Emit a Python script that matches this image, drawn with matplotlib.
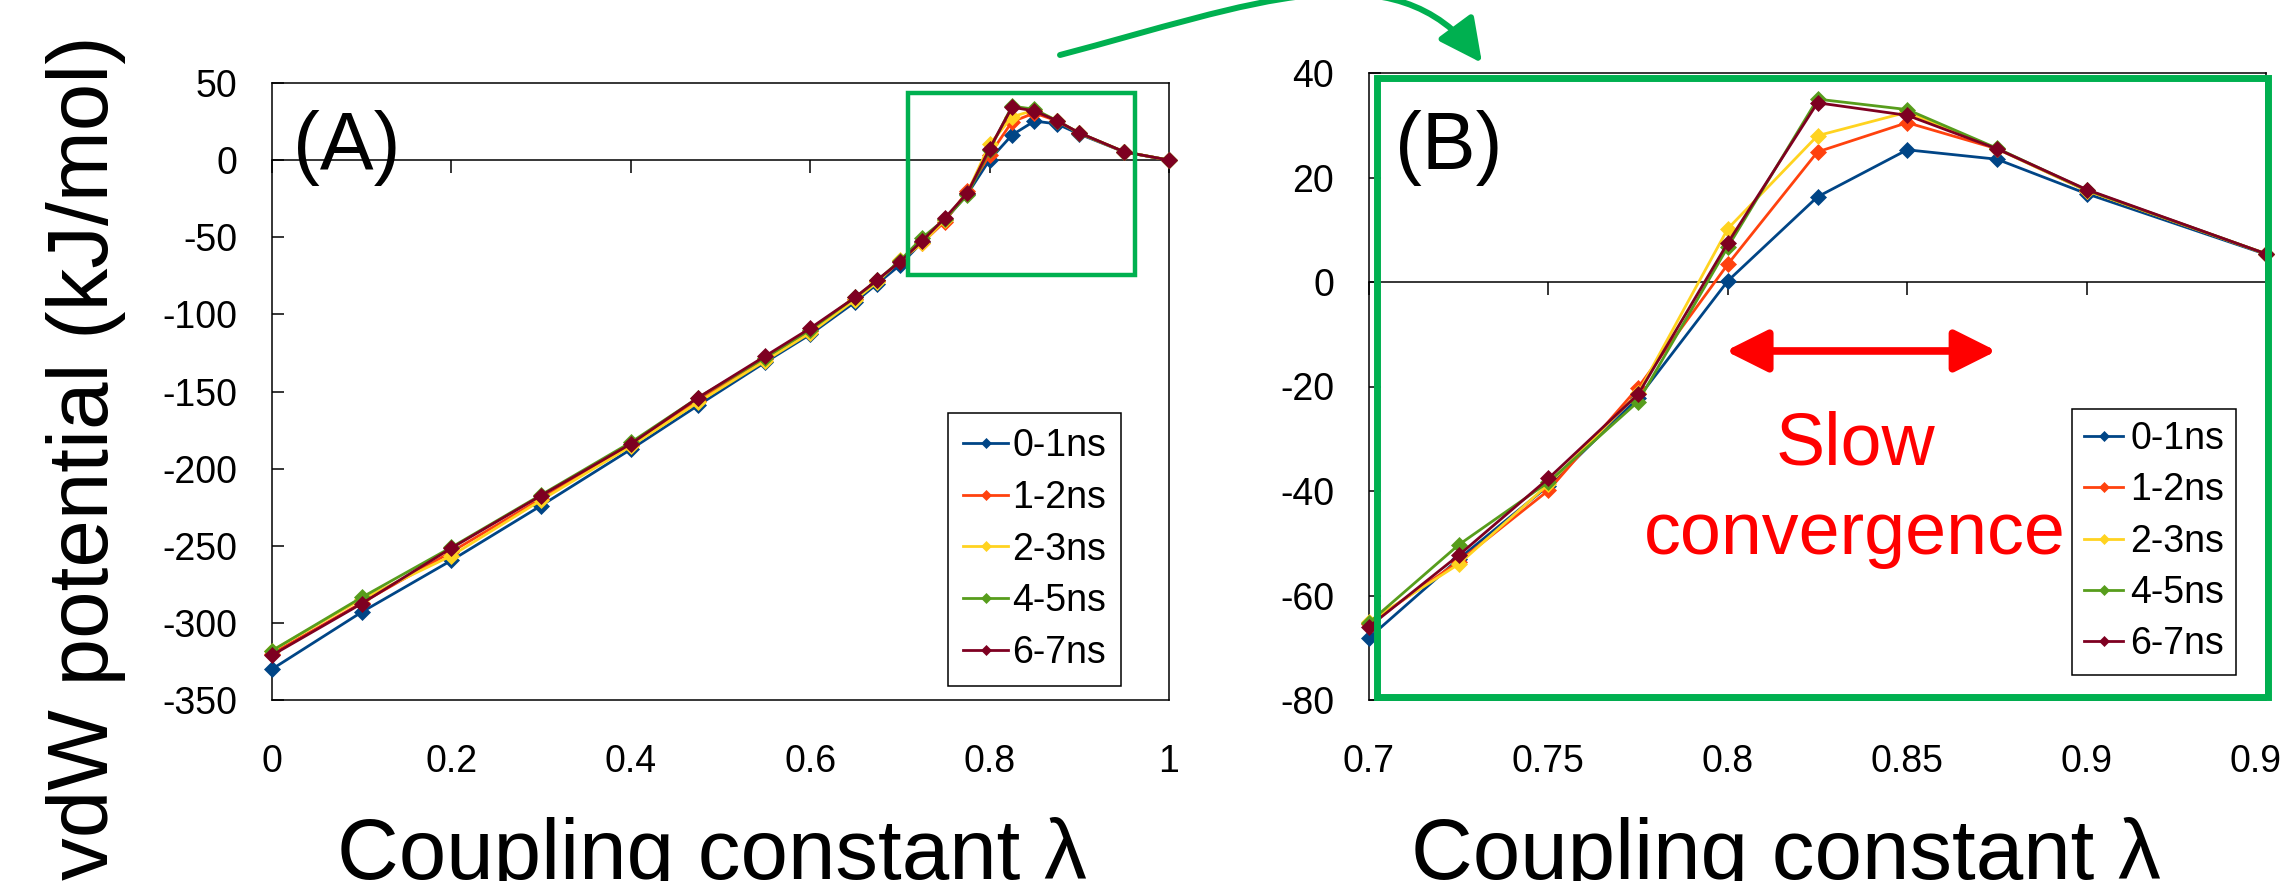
import matplotlib
matplotlib.use('Agg')
import matplotlib.pyplot as plt
from matplotlib.patches import Rectangle, FancyArrowPatch
from matplotlib.path import Path

plt.rcParams['font.family'] = ['Liberation Sans', 'DejaVu Sans']

# ---------------- data ----------------
lam = [0, 0.1, 0.2, 0.3, 0.4, 0.475, 0.55, 0.6, 0.65, 0.675, 0.7, 0.725,
       0.75, 0.775, 0.8, 0.825, 0.85, 0.875, 0.9, 0.95, 1.0]
s01 = [-330, -293, -259.5, -224, -187.5, -159, -131, -113, -92, -80, -68.1, -53,
       -39, -22.2, 0.2, 16.3, 25.3, 23.5, 16.9, 5.3, 0]
s12 = [-320, -287, -254, -219.5, -184.5, -156, -129, -111, -90, -78.5, -65.4, -53.5,
       -39.9, -20.2, 3.4, 24.9, 30.5, 25.5, 17.5, 5.4, 0]
s23 = [-318, -284.5, -256.5, -220.5, -185.5, -157, -130, -112, -90.5, -79, -65, -54,
       -38.7, -21.3, 10.2, 28.0, 32.5, 25.5, 17.5, 5.4, 0]
s45 = [-318, -283.5, -251, -217, -183, -154, -128, -110, -89, -78, -65.2, -50.3,
       -38.3, -22.9, 6.7, 35.0, 33.0, 25.6, 17.6, 5.4, 0]
s67 = [-321, -287.5, -251.5, -217.5, -184, -154, -127, -109, -89, -77.5, -66, -52.3,
       -37.6, -21.5, 7.5, 34.3, 31.9, 25.5, 17.7, 5.4, 0]
series = [s01, s12, s23, s45, s67]
labels = ['0-1ns', '1-2ns', '2-3ns', '4-5ns', '6-7ns']
colors = ['#004586', '#FF420E', '#FFD320', '#579D1C', '#7E0021']

xticksA = [0, 0.2, 0.4, 0.6, 0.8, 1.0]
xticklabelsA = ['0', '0.2', '0.4', '0.6', '0.8', '1']
yticksA = [-350, -300, -250, -200, -150, -100, -50, 0, 50]
xticksB = [0.7, 0.75, 0.8, 0.85, 0.9, 0.95]
xticklabelsB = ['0.7', '0.75', '0.8', '0.85', '0.9', '0.95']
yticksB = [-80, -60, -40, -20, 0, 20, 40]

# ---------------- layout helpers ----------------
W, H = 2280, 881
def fx(px):
    return px / W
def fy(py):
    return 1 - py / H

fig = plt.figure(figsize=(W / 100, H / 100), dpi=100)
fig.patch.set_facecolor('white')

axA = fig.add_axes([fx(272), fy(700), 897 / W, 617 / H])
axB = fig.add_axes([fx(1369), fy(700), 897 / W, 627 / H])


def style_axes(ax, xticks, xlabels, yticks, xlim, ylim):
    ax.set_xlim(*xlim)
    ax.set_ylim(*ylim)
    ax.set_xticks(xticks)
    ax.set_xticklabels(xlabels)
    ax.set_yticks(yticks)
    ax.set_yticklabels([str(v) for v in yticks])
    ax.tick_params(axis='x', length=0, pad=32, labelsize=27)
    ax.tick_params(axis='y', direction='in', length=8.6, width=1.1, pad=25, labelsize=27)
    for sp in ax.spines.values():
        sp.set_linewidth(1.1)
        sp.set_color('black')
    # zero line with tick marks (the category axis crosses at 0)
    pos = (0 - ylim[0]) / (ylim[1] - ylim[0])
    sec = ax.secondary_xaxis(pos)
    sec.set_alignment('bottom')
    sec.set_xticks(xticks)
    sec.tick_params(axis='x', direction='out', length=9.4, width=1.1,
                    labelbottom=False, labeltop=False)
    for sp in sec.spines.values():
        sp.set_linewidth(1.1)
        sp.set_color('black')


def plot_series(ax, lo, hi, ms):
    for s, lab, c in zip(series, labels, colors):
        xs = [x for x in lam if lo - 1e-9 <= x <= hi + 1e-9]
        ys = [y for x, y in zip(lam, s) if lo - 1e-9 <= x <= hi + 1e-9]
        ax.plot(xs, ys, color=c, lw=2.0, marker='D', ms=ms, mec=c, mew=0.5,
                label=lab, clip_on=False, zorder=3)


plot_series(axA, 0, 1.0, 8.5)
style_axes(axA, xticksA, xticklabelsA, yticksA, (0, 1.0), (-350, 50))
plot_series(axB, 0.7, 0.95, 8.0)
style_axes(axB, xticksB, xticklabelsB, yticksB, (0.7, 0.95), (-80, 40))

# legends
def add_legend(ax, x0, y0, handlelength, handletextpad, borderpad, labelspacing):
    leg = ax.legend(loc='upper left', bbox_to_anchor=(fx(x0), fy(y0)),
                    bbox_transform=fig.transFigure, borderaxespad=0,
                    fontsize=27, frameon=True, fancybox=False, edgecolor='black',
                    framealpha=1, handlelength=handlelength,
                    handletextpad=handletextpad, borderpad=borderpad,
                    labelspacing=labelspacing)
    leg.get_frame().set_linewidth(1.1)
    for ln in leg.get_lines():
        ln.set_markersize(5.5)
    leg.set_zorder(20)
    return leg

add_legend(axA, 948, 413, 1.2, 0.12, 0.4, 0.42)
add_legend(axB, 2072, 409, 1.04, 0.19, 0.32, 0.41)

# panel labels
fig.text(fx(293), fy(169), '(A)', fontsize=58, va='baseline', ha='left')
fig.text(fx(1395), fy(169), '(B)', fontsize=58, va='baseline', ha='left')

# axis labels
fig.text(fx(108), fy(880), 'vdW potential (kJ/mol)', fontsize=61.5, rotation=90,
         rotation_mode='anchor', ha='left', va='baseline')
fig.text(fx(337), fy(879), 'Coupling constant λ', fontsize=61.5, va='baseline', ha='left')
fig.text(fx(1411), fy(879), 'Coupling constant λ', fontsize=61.5, va='baseline', ha='left')

# green zoom box in panel A
axA.add_patch(Rectangle((0.709, -74.7), 0.253, 118.2, fill=False, ec='#00B050',
                        lw=3.2, clip_on=False, zorder=10))
# green frame around panel B
fig.add_artist(Rectangle((fx(1377), fy(697)), (2268 - 1377) / W, (697 - 78) / H,
                         transform=fig.transFigure, fill=False, ec='#00B050',
                         lw=5.0, zorder=10))

# curved green arrow from A to B
pts = [(1060, 55), (1250, 5), (1395, -55), (1482, 63)]
verts = [(fx(x), fy(y)) for x, y in pts]
codes = [Path.MOVETO, Path.CURVE4, Path.CURVE4, Path.CURVE4]
garrow = FancyArrowPatch(path=Path(verts, codes),
                         arrowstyle='-|>,head_length=0.4,head_width=0.2',
                         mutation_scale=66, lw=4.3, color='#00B050',
                         transform=fig.transFigure, zorder=12)
fig.add_artist(garrow)

# red double arrow + text in panel B
axB.annotate('', xy=(0.8749, -13.2), xytext=(0.7994, -13.2),
             arrowprops=dict(arrowstyle='<|-|>,head_length=0.4,head_width=0.2',
                             mutation_scale=64, lw=5.5, color='#FF0000',
                             shrinkA=0, shrinkB=0), zorder=6)
axB.text(0.8355, -35.0, 'Slow', color='#FF0000', fontsize=53,
         ha='center', va='baseline', zorder=6)
axB.text(0.8355, -52.0, 'convergence', color='#FF0000', fontsize=53,
         ha='center', va='baseline', zorder=6)

fig.savefig('out.png', dpi=100, facecolor='white')
